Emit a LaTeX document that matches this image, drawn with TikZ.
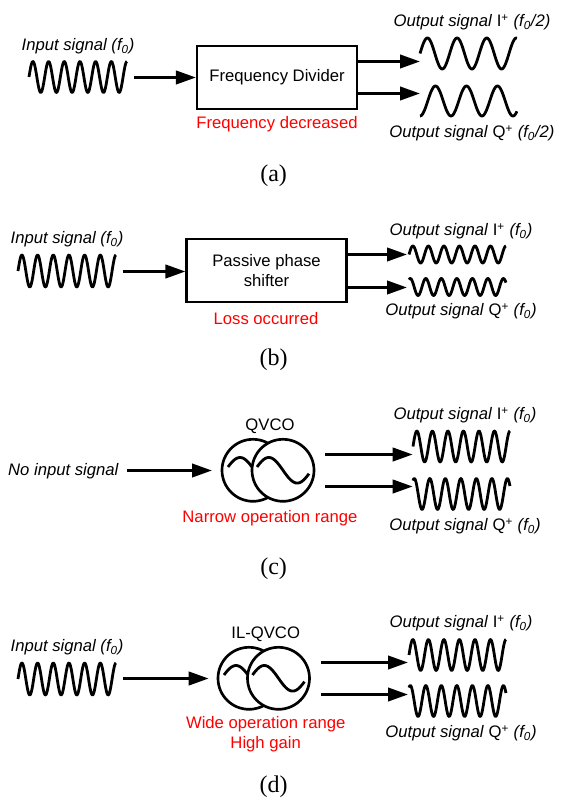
\documentclass[tikz,border=0pt]{standalone}
\usepackage{fontspec}
\setmainfont{Liberation Sans}
\newfontfamily\capfont{Liberation Serif}
\usepackage{xcolor}
\usepackage{tikz}
\usetikzlibrary{arrows.meta, positioning, calc}
\definecolor{myred}{RGB}{255,0,0}
\tikzset{
  procbox/.style={rectangle, draw=black, fill=white, minimum width=120pt, minimum height=47pt,
    inner sep=0pt, align=center, font=\fontsize{12.5}{15}\selectfont, line width=1.6pt},
  lab/.style={inner sep=0pt, yshift=-1pt, font=\fontsize{12.5}{15}\selectfont, text=black},
  redlab/.style={inner sep=0pt, yshift=-1pt, align=center, font=\fontsize{12.5}{15}\selectfont, text=myred},
  sublab/.style={inner sep=0pt, yshift=-1.2pt, font=\capfont\fontsize{18}{20}\selectfont},
  osc/.style={circle, draw=black, fill=white, minimum size=46.5pt, inner sep=0pt, line width=2pt},
  sigwave/.style={line width=2.1pt, line join=round},
  arrow/.style={-{Triangle[length=15pt,width=10pt]}, line width=2.2pt, color=black}
}
% x0, x1, centre y, amplitude, cycles, start phase
\newcommand{\wave}[6]{\draw[sigwave] plot[domain=0:1, samples=160] ({#1+(#2-#1)*\x},{#3-#4*sin(#6+360*#5*\x)});}
% name, left centre x, right centre x, y
\newcommand{\oscpair}[4]{
  \node[osc] (#1l) at (#2,#4) {};
  \draw[sigwave] plot[domain=0:1, samples=40] ({#2-25+24*\x},{#4-12.8*sin(15+150*\x)});
  \node[osc] (#1r) at (#3,#4) {};
  \draw[sigwave] plot[domain=0:1, samples=60] ({#3-26+52*\x},{#4-12.8*sin(15+330*\x)});
}
\newcommand{\outlab}[2]{\textit{Output signal} #1\textsuperscript{+} \textit{(f\textsubscript{0}#2)}}
\newcommand{\inlab}{\textit{Input signal (f\textsubscript{0})}}

\begin{document}
\begin{tikzpicture}[x=0.75pt,y=-0.75pt]
  \useasboundingbox (0,0) rectangle (565,805);
  % (a)
  \node[lab] (ina) at (78,45) {\inlab};
  \wave{29}{127}{77}{15.5}{6.25}{0}
  \coordinate (ainfree) at (134,77.5);
  \node[procbox] (fdiv) at (277,77.5) {Frequency Divider};
  \node[redlab] (fdivred) at (277,123) {Frequency decreased};
  \coordinate (aI) at (420,61.5);
  \coordinate (aQ) at (420,93.5);
  \draw[arrow] (ainfree) -- (fdiv.west);
  \draw[arrow] (fdiv.east |- aI) -- (aI);
  \draw[arrow] (fdiv.east |- aQ) -- (aQ);
  \wave{420}{517}{53.5}{15.5}{3.27}{0}
  \wave{420}{517}{101}{15}{3.13}{-90}
  \node[lab] (outIa) at (472,21) {\outlab{I}{/2}};
  \node[lab] (outQa) at (472,132) {\outlab{Q}{/2}};
  \node[sublab] (capa) at (273.6,174) {(a)};
  % (b)
  \node[lab] (inb) at (67,238) {\inlab};
  \wave{18}{116}{271}{16}{6.25}{0}
  \coordinate (binfree) at (123,271.5);
  \node[procbox] (phase) at (266.5,270.5) {Passive phase\\shifter};
  \node[redlab] (phasered) at (266,317) {Loss occurred};
  \coordinate (bI) at (407,254.5);
  \coordinate (bQ) at (407,287.5);
  \draw[arrow] (binfree) -- (phase.west |- binfree);
  \draw[arrow] (phase.east |- bI) -- (bI);
  \draw[arrow] (phase.east |- bQ) -- (bQ);
  \wave{409}{506}{254.5}{8.5}{6.25}{0}
  \wave{409}{506}{287}{8.5}{6.25}{60}
  \node[lab] (outIb) at (461,230) {\outlab{I}{}};
  \node[lab] (outQb) at (461,310) {\outlab{Q}{}};
  \node[sublab] (capb) at (273.6,358) {(b)};
  % (c)
  \node[lab] (inc) at (63.5,470) {\textit{No input signal}};
  \coordinate (cinfree) at (127,470.5);
  \coordinate (cinend) at (212,470.5);
  \oscpair{qvco}{253}{283}{470.3}
  \node[lab] (qvcolab) at (270,425) {QVCO};
  \node[redlab] (qvcored) at (270,517) {Narrow operation range};
  \coordinate (cIs) at (325,454.5);
  \coordinate (cI) at (412.7,454.5);
  \coordinate (cQs) at (325,486.5);
  \coordinate (cQ) at (412.7,486.5);
  \draw[arrow] (cinfree) -- (cinend);
  \draw[arrow] (cIs) -- (cI);
  \draw[arrow] (cQs) -- (cQ);
  \wave{413}{510}{446.5}{15.5}{6.25}{0}
  \wave{413}{510}{494}{15.5}{6.25}{60}
  \node[lab] (outIc) at (465,414) {\outlab{I}{}};
  \node[lab] (outQc) at (465,525) {\outlab{Q}{}};
  \node[sublab] (capc) at (273.6,567) {(c)};
  % (d)
  \node[lab] (ind) at (67,646) {\inlab};
  \wave{18}{116}{679}{16}{6.25}{0}
  \coordinate (dinfree) at (123,678.5);
  \coordinate (dinend) at (208.7,678.5);
  \oscpair{ilqvco}{249}{278.5}{678.3}
  \node[lab] (ilqvcolab) at (265.7,633) {IL-QVCO};
  \node[redlab] (ilqvcored) at (265.7,733) {Wide operation range\\High gain};
  \coordinate (dIs) at (320.6,662.5);
  \coordinate (dI) at (408,662.5);
  \coordinate (dQs) at (320.6,694.5);
  \coordinate (dQ) at (408,694.5);
  \draw[arrow] (dinfree) -- (dinend);
  \draw[arrow] (dIs) -- (dI);
  \draw[arrow] (dQs) -- (dQ);
  \wave{409}{506}{655}{15.5}{6.25}{0}
  \wave{409}{506}{701}{15.5}{6.25}{60}
  \node[lab] (outId) at (461,622) {\outlab{I}{}};
  \node[lab] (outQd) at (461,732) {\outlab{Q}{}};
  \node[sublab] (capd) at (273.6,785) {(d)};
\end{tikzpicture}
\end{document}
